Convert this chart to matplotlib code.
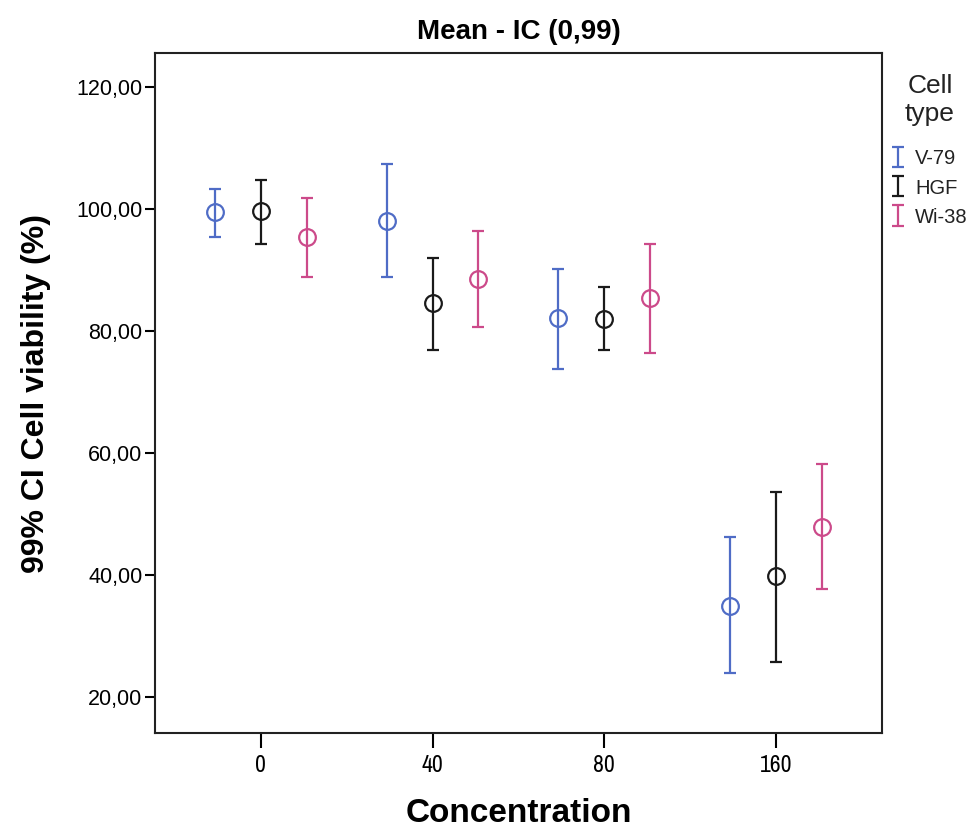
import matplotlib
matplotlib.use('Agg')
import matplotlib.pyplot as plt
from matplotlib import font_manager
import numpy as np

# data
concentrations = ['0', '40', '80', '160']
cell_types = ['V-79', 'HGF', 'Wi-38']
colors = ['#4f6cc6', '#1a1a1a', '#cc4a8a']

v79_mean = [99.6, 98.1, 82.1, 35.0]
v79_low = [95.4, 88.9, 73.8, 24.0]
v79_high = [103.3, 107.4, 90.3, 46.2]

hgf_mean = [99.7, 84.6, 82.0, 39.8]
hgf_low = [94.3, 76.9, 76.9, 25.7]
hgf_high = [104.9, 92.1, 87.2, 53.7]

wi38_mean = [95.4, 88.5, 85.5, 47.9]
wi38_low = [88.9, 80.7, 76.4, 37.8]
wi38_high = [101.9, 96.4, 94.3, 58.2]

yticks = [20, 40, 60, 80, 100, 120]

# narrow regular font for the x tick labels
narrow = None
for f in font_manager.fontManager.ttflist:
    if 'Narrow' in f.name or 'Condensed' in f.name:
        narrow = f.name
        break
if narrow is None:
    narrow = 'DejaVu Sans'

plt.rcParams['font.family'] = ['Liberation Sans', 'DejaVu Sans']

fig = plt.figure(figsize=(9.8, 8.33), dpi=100)
ax = fig.add_axes([0.158, 0.12, 0.742, 0.816])

means = [v79_mean, hgf_mean, wi38_mean]
lows = [v79_low, hgf_low, wi38_low]
highs = [v79_high, hgf_high, wi38_high]
offsets = [-0.267, 0.0, 0.267]
x = np.arange(len(concentrations))

handles = []
for i in range(3):
    m = np.array(means[i])
    err = [m - np.array(lows[i]), np.array(highs[i]) - m]
    eb = ax.errorbar(x + offsets[i], m, yerr=err, fmt='none', ecolor=colors[i],
                     elinewidth=1.6, capsize=4, capthick=1.6, label=cell_types[i])
    ax.plot(x + offsets[i], m, 'o', mfc='none', mec=colors[i], mew=1.6, ms=12, zorder=3)
    handles.append(eb)

ax.set_xlim(-0.616, 3.616)
ax.set_ylim(14.1, 125.6)
ax.set_xticks(x)
ax.set_xticklabels(concentrations, fontsize=17, family=narrow)
ax.set_yticks(yticks)
ax.set_yticklabels([('%.2f' % v).replace('.', ',') for v in yticks], fontsize=15.5)
ax.tick_params(axis='y', length=7, width=1.5, pad=2)
ax.tick_params(axis='x', length=11, width=1.5, pad=5)
for s in ax.spines.values():
    s.set_linewidth(1.5)
    s.set_color('#222222')

ax.set_title('Mean - IC (0,99)', fontsize=20, fontweight='bold', pad=10)
ax.set_xlabel('Concentration', fontsize=24, fontweight='bold', labelpad=16)
ax.set_ylabel('99% CI Cell viability (%)', fontsize=23, fontweight='bold', labelpad=18)

# legend, with its title as a separate text so the gap matches
fig.text(0.949, 0.88, 'Cell\ntype', ha='center', va='center', fontsize=19,
         linespacing=1.25, color='#222222')
leg = fig.legend(handles=handles, labels=cell_types, loc='upper left',
                 bbox_to_anchor=(0.903, 0.8307), frameon=False, borderaxespad=0,
                 fontsize=14.5, handlelength=0.5, handleheight=0.9,
                 handletextpad=0.6, labelspacing=0.5)
for t in leg.get_texts():
    t.set_color('#222222')

plt.savefig('out.png', dpi=100)
